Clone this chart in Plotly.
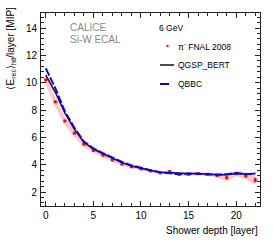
import plotly.graph_objects as go

layers = list(range(23))
data_vals = [10.2, 8.6, 7.2, 6.3, 5.5, 5.05, 4.7, 4.35, 4.05, 3.85, 3.7, 3.55, 3.4, 3.5,
             3.3, 3.3, 3.35, 3.3, 3.22, 3.05, 3.35, 3.18, 2.88]
data_stat = [0.08, 0.07, 0.06, 0.05, 0.05, 0.04, 0.04, 0.04, 0.04, 0.04, 0.04, 0.04, 0.04, 0.04,
             0.04, 0.04, 0.05, 0.05, 0.06, 0.07, 0.08, 0.1, 0.2]
data_syst = [0.35, 0.35, 0.3, 0.25, 0.2, 0.18, 0.15, 0.15, 0.12, 0.12, 0.12, 0.1, 0.1, 0.1,
             0.1, 0.1, 0.1, 0.12, 0.15, 0.28, 0.2, 0.25, 0.35]
qgsp_bert = [10.55, 9.3, 7.8, 6.6, 5.65, 5.15, 4.8, 4.45, 4.15, 3.9, 3.72, 3.57, 3.45, 3.42,
             3.35, 3.35, 3.35, 3.3, 3.27, 3.27, 3.35, 3.3, 3.35]
qbbc = [11.05, 9.6, 7.9, 6.7, 5.7, 5.2, 4.85, 4.5, 4.2, 3.95, 3.75, 3.6, 3.45, 3.4,
        3.3, 3.35, 3.35, 3.3, 3.28, 3.3, 3.4, 3.3, 3.35]

upper = [v + e for v, e in zip(data_vals, data_syst)]
lower = [v - e for v, e in zip(data_vals, data_syst)]

FONT = "Liberation Sans, Arial, Helvetica, sans-serif"
fig = go.Figure()
fig.add_trace(go.Scatter(x=layers, y=upper, mode="lines", line=dict(width=0),
                         showlegend=False, hoverinfo="skip"))
fig.add_trace(go.Scatter(x=layers, y=lower, mode="lines", line=dict(width=0),
                         fill="tonexty", fillcolor="rgba(255,70,70,0.3)",
                         showlegend=False, hoverinfo="skip"))
fig.add_trace(go.Scatter(x=layers, y=data_vals, mode="markers",
                         marker=dict(color="red", size=3, symbol="square"),
                         error_y=dict(type="data", array=data_stat, color="red", thickness=1, width=0),
                         showlegend=False))
fig.add_trace(go.Scatter(x=layers, y=qgsp_bert, mode="lines",
                         line=dict(color="#1a0a1a", width=1.5), showlegend=False))
fig.add_trace(go.Scatter(x=layers, y=qbbc, mode="lines",
                         line=dict(color="#0000ff", width=2, dash="8px,2px"), showlegend=False))

L, R, T, B = 41, 14, 13, 34
W, H = 274, 240
pw, ph = W - L - R, H - T - B

def px(xp):
    return (xp - L) / pw

def py(yp):
    return (H - B - yp) / ph

axis_common = dict(showgrid=False, zeroline=False, showline=True, linecolor="#222",
                   linewidth=1, mirror="allticks", ticks="inside", ticklen=5,
                   tickcolor="#222", tickfont=dict(family=FONT, size=10, color="black"))
fig.update_xaxes(range=[-0.5, 22.5], dtick=5, tick0=0,
                 minor=dict(dtick=1, ticks="inside", ticklen=3, tickcolor="#222"),
                 **axis_common)
fig.update_yaxes(range=[0.98, 15.1], dtick=2, tick0=0,
                 minor=dict(dtick=0.4, ticks="inside", ticklen=3, tickcolor="#222"),
                 ticklabelstandoff=1, **axis_common)

ann = []
ann.append(dict(text="⟨E<sub>rec</sub>⟩<sub>hit</sub>/layer [MIP]", textangle=-90,
                xref="paper", yref="paper", x=px(10), y=py(5), xanchor="center", yanchor="top",
                showarrow=False, font=dict(family=FONT, size=10, color="black")))
ann.append(dict(text="Shower depth [layer]", xref="paper", yref="paper", x=px(260), y=py(230),
                xanchor="right", yanchor="middle", showarrow=False,
                font=dict(family=FONT, size=10, color="black")))
ann.append(dict(text="CALICE", xref="paper", yref="paper", x=px(68), y=py(27),
                xanchor="left", yanchor="middle", showarrow=False,
                font=dict(family=FONT, size=10, color="#888")))
ann.append(dict(text="Si-W ECAL", xref="paper", yref="paper", x=px(68), y=py(39),
                xanchor="left", yanchor="middle", showarrow=False,
                font=dict(family=FONT, size=10, color="#888")))
ann.append(dict(text="6 GeV", xref="paper", yref="paper", x=px(157), y=py(28),
                xanchor="left", yanchor="middle", showarrow=False,
                font=dict(family=FONT, size=8.5, color="black")))
for label, yy in [("π<sup>-</sup> FNAL 2008", 46), ("QGSP_BERT", 65), ("QBBC", 84)]:
    ann.append(dict(text=label, xref="paper", yref="paper", x=px(176), y=py(yy),
                    xanchor="left", yanchor="middle", showarrow=False,
                    font=dict(family=FONT, size=8.5, color="black")))

shapes = [
    dict(type="rect", xref="paper", yref="paper", x0=px(166.5), x1=px(168.5), y0=py(47), y1=py(45),
         fillcolor="red", line=dict(width=0)),
    dict(type="line", xref="paper", yref="paper", x0=px(160), x1=px(174), y0=py(65), y1=py(65),
         line=dict(color="#1a0a1a", width=1.5)),
    dict(type="line", xref="paper", yref="paper", x0=px(160), x1=px(175), y0=py(84), y1=py(84),
         line=dict(color="#0000ff", width=2, dash="dash")),
]

fig.update_layout(width=W, height=H, margin=dict(l=L, r=R, t=T, b=B),
                  paper_bgcolor="white", plot_bgcolor="white",
                  annotations=ann, shapes=shapes, showlegend=False)
fig.write_html("out.html", config={"displayModeBar": False},
               post_script="document.body.style.margin='0';")
